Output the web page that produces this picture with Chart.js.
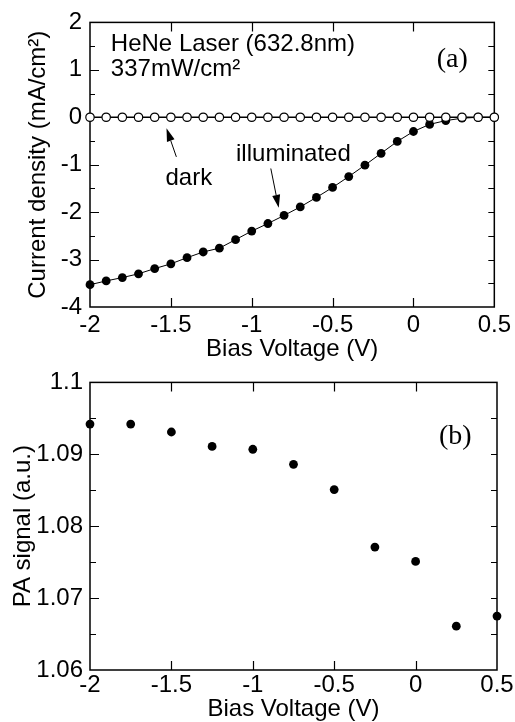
<!DOCTYPE html>
<html>
<head>
<meta charset="utf-8">
<script src="https://cdn.jsdelivr.net/npm/chart.js@4.4.0/dist/chart.umd.min.js"></script>
<style>
  html, body { margin: 0; padding: 0; background: #fff; }
  .panel { position: absolute; left: 0; width: 515px; height: 361px; }
  #top { top: 0; }
  #bottom { top: 361px; }
</style>
</head>
<body>
<div class="panel" id="top"><canvas id="jvChart" width="515" height="361"></canvas></div>
<div class="panel" id="bottom"><canvas id="paChart" width="515" height="361"></canvas></div>
<script>
// (a) J-V curves, 0.1 V steps
const biasFine = [-2.0, -1.9, -1.8, -1.7, -1.6, -1.5, -1.4, -1.3, -1.2, -1.1, -1.0, -0.9, -0.8,
                  -0.7, -0.6, -0.5, -0.4, -0.3, -0.2, -0.1, 0.0, 0.1, 0.2, 0.3, 0.4, 0.5];
const darkCurrent = [0, 0, 0, 0, 0, 0, 0, 0, 0, 0, 0, 0, 0,
                     0, 0, 0, 0, 0, 0, 0, 0, 0, 0, 0, 0, 0];
const illumCurrent = [-3.53, -3.45, -3.38, -3.30, -3.19, -3.09, -2.96, -2.84, -2.76, -2.58, -2.40, -2.24, -2.07,
                      -1.89, -1.69, -1.48, -1.25, -1.01, -0.76, -0.51, -0.30, -0.15, -0.07, -0.02, 0.0, 0.0];

// (b) PA signal, 0.25 V steps
const biasCoarse = [-2, -1.75, -1.5, -1.25, -1, -0.75, -0.5, -0.25, 0, 0.25, 0.5];
const paSignal = [1.0942, 1.0942, 1.0931, 1.0911, 1.0907, 1.0886, 1.0851, 1.0771, 1.0751, 1.0661, 1.0675];

const voltLabels = { "-2": "-2", "-1.5": "-1.5", "-1": "-1", "-0.5": "-0.5", "0": "0", "0.5": "0.5" };

const SANS = "'Liberation Sans', Arial, sans-serif";
const SERIF = "'Liberation Serif', 'Times New Roman', serif";
const FS = 24;
Chart.defaults.font.family = SANS;
Chart.defaults.font.size = FS;
Chart.defaults.color = "#000";

const pts = (xs, ys) => xs.map((x, i) => ({ x, y: ys[i] }));

// box + inward ticks on all four sides
const frameTicks = {
  id: "frameTicks",
  beforeDatasetsDraw(chart, args, o) {
    const { ctx, chartArea: a, scales: { x, y } } = chart;
    ctx.save();
    ctx.strokeStyle = "#000";
    ctx.lineWidth = 1.2;
    ctx.beginPath();
    x.ticks.forEach(t => {
      const px = Math.round(x.getPixelForValue(t.value)) + 0.5;
      if (px <= a.left + 2 || px >= a.right - 2) return;
      ctx.moveTo(px, a.bottom); ctx.lineTo(px, a.bottom - o.xLen);
      ctx.moveTo(px, a.top); ctx.lineTo(px, a.top + o.xLen);
    });
    y.ticks.forEach(t => {
      const py = Math.round(y.getPixelForValue(t.value)) + 0.5;
      if (py <= a.top + 2 || py >= a.bottom - 2) return;
      const major = o.isMajor(t.value);
      ctx.moveTo(a.left, py); ctx.lineTo(a.left + (major ? o.yMajor : o.yMinor), py);
      ctx.moveTo(a.right, py); ctx.lineTo(a.right - o.yRight, py);
    });
    ctx.stroke();
    ctx.lineWidth = 1.5;
    ctx.strokeRect(a.left, a.top, a.right - a.left, a.bottom - a.top);
    ctx.restore();
  }
};

// text notes and arrows placed in data units
const notes = {
  id: "notes",
  afterDatasetsDraw(chart, args, o) {
    const { ctx, scales: { x, y } } = chart;
    ctx.save();
    ctx.fillStyle = "#000";
    ctx.strokeStyle = "#000";
    (o.texts || []).forEach(t => {
      ctx.font = t.font || `${FS}px ${SANS}`;
      ctx.textAlign = "left";
      ctx.textBaseline = "alphabetic";
      ctx.fillText(t.text, x.getPixelForValue(t.x), y.getPixelForValue(t.y));
    });
    (o.arrows || []).forEach(ar => {
      const x0 = x.getPixelForValue(ar.from[0]), y0 = y.getPixelForValue(ar.from[1]);
      const x1 = x.getPixelForValue(ar.to[0]), y1 = y.getPixelForValue(ar.to[1]);
      const ang = Math.atan2(y1 - y0, x1 - x0);
      const hl = 13, hw = 4;
      ctx.lineWidth = 1;
      ctx.beginPath();
      ctx.moveTo(x0, y0);
      ctx.lineTo(x1 - hl * Math.cos(ang), y1 - hl * Math.sin(ang));
      ctx.stroke();
      ctx.beginPath();
      ctx.moveTo(x1, y1);
      ctx.lineTo(x1 - hl * Math.cos(ang) + hw * Math.sin(ang), y1 - hl * Math.sin(ang) - hw * Math.cos(ang));
      ctx.lineTo(x1 - hl * Math.cos(ang) - hw * Math.sin(ang), y1 - hl * Math.sin(ang) + hw * Math.cos(ang));
      ctx.closePath();
      ctx.fill();
    });
    ctx.restore();
  }
};

function voltAxis(labelPad, titlePad, height) {
  return {
    type: "linear",
    min: -2, max: 0.5,
    grid: { display: false, drawTicks: false },
    border: { display: false },
    ticks: {
      stepSize: 0.5, autoSkip: false, maxRotation: 0, padding: labelPad,
      callback: v => voltLabels[String(Math.round(v * 10) / 10)] ?? ""
    },
    title: { display: true, text: "Bias Voltage (V)", font: { size: FS, lineHeight: 1 }, padding: { top: 0, bottom: titlePad } },
    afterFit: s => { s.height = height; }
  };
}

new Chart(document.getElementById("jvChart"), {
  type: "line",
  data: {
    datasets: [
      {
        label: "illuminated",
        data: pts(biasFine, illumCurrent),
        borderColor: "#000", borderWidth: 1,
        pointRadius: 4.4, pointBackgroundColor: "#000", pointBorderColor: "#000", pointBorderWidth: 0,
        tension: 0, clip: false, order: 2
      },
      {
        label: "dark",
        data: pts(biasFine, darkCurrent),
        borderColor: "#000", borderWidth: 1.5,
        pointRadius: 4.2, pointBackgroundColor: "#fff", pointBorderColor: "#000", pointBorderWidth: 1.2,
        tension: 0, clip: false, order: 1
      }
    ]
  },
  options: {
    responsive: false,
    animation: false,
    devicePixelRatio: 1,
    layout: { padding: { top: 16, right: 18, left: 0, bottom: 0 } },
    plugins: {
      legend: { display: false },
      tooltip: { enabled: false },
      frameTicks: { xLen: 9, yMajor: 9, yMinor: 5, yRight: 6, isMajor: v => Math.abs(v - Math.round(v)) < 1e-6 },
      notes: {
        texts: [
          { text: "HeNe Laser (632.8nm)", x: -1.871, y: 1.40 },
          { text: "337mW/cm²", x: -1.871, y: 0.88 },
          { text: "(a)", x: 0.144, y: 1.05, font: `28px ${SERIF}` },
          { text: "dark", x: -1.533, y: -1.43 },
          { text: "illuminated", x: -1.097, y: -0.92 }
        ],
        arrows: [
          { from: [-1.466, -0.835], to: [-1.527, -0.234] },
          { from: [-0.882, -1.08], to: [-0.833, -1.91] }
        ]
      }
    },
    scales: {
      x: voltAxis(4, 0, 54),
      y: {
        type: "linear",
        min: -4, max: 2,
        grid: { display: false, drawTicks: false },
        border: { display: false },
        ticks: {
          stepSize: 0.5, autoSkip: false, padding: 8,
          callback: v => (Math.abs(v - Math.round(v)) < 1e-6 ? String(Math.round(v)) : "")
        },
        title: { display: true, text: "Current density (mA/cm²)", font: { size: FS, lineHeight: 1 }, padding: { top: 26, bottom: 0 } },
        afterFit: s => { s.width = 90; }
      }
    }
  },
  plugins: [frameTicks, notes]
});

new Chart(document.getElementById("paChart"), {
  type: "scatter",
  data: {
    datasets: [
      {
        label: "PA signal",
        data: pts(biasCoarse, paSignal),
        showLine: false,
        pointRadius: 4.4, pointBackgroundColor: "#000", pointBorderColor: "#000", pointBorderWidth: 0,
        clip: false
      }
    ]
  },
  options: {
    responsive: false,
    animation: false,
    devicePixelRatio: 1,
    layout: { padding: { top: 20, right: 18, left: 0, bottom: 0 } },
    plugins: {
      legend: { display: false },
      tooltip: { enabled: false },
      frameTicks: { xLen: 9, yMajor: 9, yMinor: 6, yRight: 6, isMajor: v => Math.abs(v * 100 - Math.round(v * 100)) < 1e-6 },
      notes: {
        texts: [{ text: "(b)", x: 0.144, y: 1.0914, font: `28px ${SERIF}` }]
      }
    },
    scales: {
      x: voltAxis(1, 1, 52),
      y: {
        type: "linear",
        min: 1.06, max: 1.1,
        grid: { display: false, drawTicks: false },
        border: { display: false },
        ticks: {
          stepSize: 0.005, autoSkip: false, padding: 7,
          callback: v => (Math.abs(v * 100 - Math.round(v * 100)) < 1e-6 ? String(Number(v.toFixed(2))) : "")
        },
        title: { display: true, text: "PA signal (a.u.)", font: { size: FS, lineHeight: 1 }, padding: { top: 11, bottom: 0 } },
        afterFit: s => { s.width = 90; }
      }
    }
  },
  plugins: [frameTicks, notes]
});
</script>
</body>
</html>
